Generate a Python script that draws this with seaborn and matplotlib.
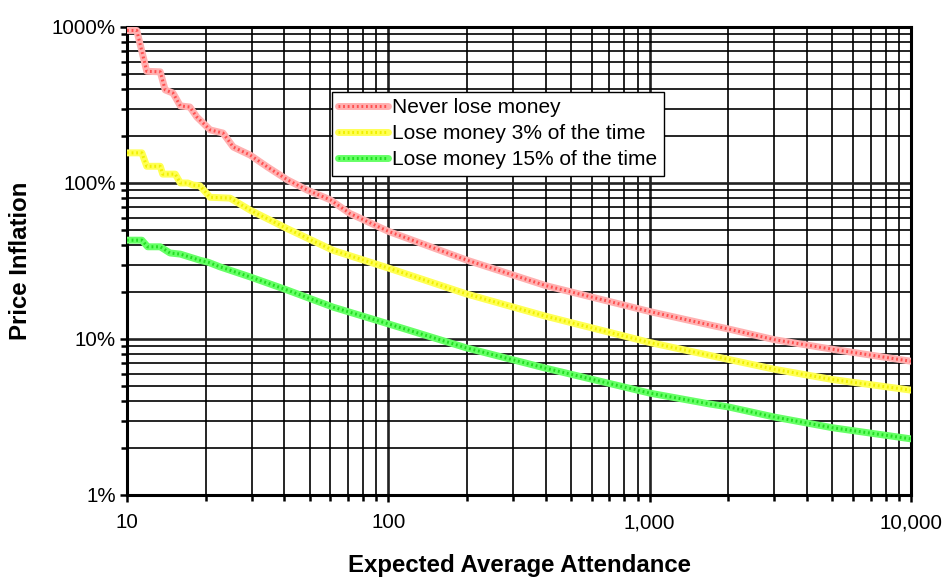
import matplotlib
matplotlib.use("Agg")
import matplotlib.pyplot as plt
import matplotlib.ticker as mticker
from matplotlib.lines import Line2D
import numpy as np
import pandas as pd
import seaborn as sns

# Series labels
series_names = ["Never lose money", "Lose money 3% of the time", "Lose money 15% of the time"]

# Never lose money (attendance, price inflation in %)
never_x = [10, 10.9, 11.9, 13.4, 14, 15, 16, 17.4, 18.5, 20.8, 23.3, 25.5, 29.6, 34.4,
           41, 49, 60, 71, 100, 200, 400, 1000, 1700, 2000, 3000, 5000, 10000]
never_y = [950, 950, 520, 516, 395, 377, 312, 307, 265, 219, 209, 170, 151, 127,
           105, 90, 78, 64, 49, 32, 22, 15, 12.3, 11.6, 9.9, 8.6, 7.2]

# Lose money 3% of the time
lose3_x = [10, 11.4, 11.9, 13.4, 13.7, 15.3, 16, 17.1, 17.9, 19, 20.8, 24.8, 29.6,
           41, 61.5, 100, 200, 400, 1000, 2000, 3000, 5000, 10000]
lose3_y = [156, 156, 128, 128, 114, 114, 100, 100, 97, 96, 81, 80, 67,
           51, 37, 28.5, 19.4, 14, 9.5, 7.4, 6.4, 5.5, 4.7]

# Lose money 15% of the time
lose15_x = [10, 11.4, 12, 13.4, 14.6, 16, 19, 20.5, 22.7, 29.6, 41, 61.5, 100,
            200, 400, 1000, 1700, 2000, 3000, 5000, 10000]
lose15_y = [43, 43, 39, 39, 35.6, 35, 32, 31, 29, 25, 20.6, 16, 12.5,
            8.75, 6.5, 4.5, 3.83, 3.67, 3.16, 2.7, 2.29]

# Tick positions / labels
x_ticks = [10, 100, 1000, 10000]
y_ticks = [1, 10, 100, 1000]

frames = []
for name, xs, ys in zip(series_names, [never_x, lose3_x, lose15_x], [never_y, lose3_y, lose15_y]):
    frames.append(pd.DataFrame({"attendance": xs, "inflation": ys, "series": name}))
df = pd.concat(frames, ignore_index=True)

base_colors = {series_names[0]: "#ffb0b0", series_names[1]: "#ffff55", series_names[2]: "#66ff66"}
dot_colors = {series_names[0]: "#ff5050", series_names[1]: "#f0f000", series_names[2]: "#22dd22"}

sns.set_theme(style="white")
plt.rcParams["font.family"] = ["Liberation Sans", "DejaVu Sans"]
plt.rcParams.update({"text.color": "black", "axes.labelcolor": "black",
                     "xtick.color": "black", "ytick.color": "black"})

fig = plt.figure(figsize=(9.44, 5.77), dpi=100)
ax = fig.add_axes([127 / 944, 1 - 495 / 577, 784 / 944, 468 / 577])

ax.set_xscale("log")
ax.set_yscale("log")

# grid: black major and minor lines
ax.grid(which="major", color="#222222", lw=1.9, zorder=0)
ax.grid(which="minor", color="black", lw=1.2, zorder=0)
ax.set_axisbelow(True)

sns.lineplot(data=df, x="attendance", y="inflation", hue="series", palette=base_colors,
             estimator=None, sort=False, lw=5, legend=False, ax=ax, zorder=3)
sns.lineplot(data=df, x="attendance", y="inflation", hue="series", palette=dot_colors,
             estimator=None, sort=False, lw=2.2, legend=False, ax=ax, zorder=4,
             dashes=False)
for line in ax.lines[3:]:
    line.set_linestyle((0, (0.6, 0.9)))

ax.set_xlim(10, 10000)
ax.set_ylim(1, 1000)

ax.xaxis.set_major_locator(mticker.FixedLocator(x_ticks))
ax.xaxis.set_major_formatter(mticker.FuncFormatter(lambda v, p: f"{v:,.0f}"))
ax.xaxis.set_minor_locator(mticker.LogLocator(base=10, subs=np.arange(2, 10)))
ax.xaxis.set_minor_formatter(mticker.NullFormatter())
ax.yaxis.set_major_locator(mticker.FixedLocator(y_ticks))
ax.yaxis.set_major_formatter(mticker.FuncFormatter(lambda v, p: f"{v:g}%"))
ax.yaxis.set_minor_locator(mticker.LogLocator(base=10, subs=np.arange(2, 10)))
ax.yaxis.set_minor_formatter(mticker.NullFormatter())

ax.tick_params(which="both", direction="out", color="black", width=1.8,
               bottom=True, left=True, top=False, right=False)
ax.tick_params(which="major", length=5)
ax.tick_params(which="minor", length=4)
ax.tick_params(axis="x", which="major", labelsize=14.8, pad=8, labelcolor="black")
ax.tick_params(axis="y", which="major", labelsize=14.8, pad=3, labelcolor="black")

for s in ax.spines.values():
    s.set_color("black")
    s.set_linewidth(2.2)
    s.set_visible(True)

ax.set_xlabel("Expected Average Attendance", fontsize=17.3, fontweight="bold",
              labelpad=16, color="black")
ax.set_ylabel("Price Inflation", fontsize=17.3, fontweight="bold", labelpad=14,
              color="black")

handles = []
for name in series_names:
    h1 = Line2D([], [], color=base_colors[name], lw=5)
    h2 = Line2D([], [], color=dot_colors[name], lw=2.2, linestyle=(0, (0.6, 0.9)))
    handles.append((h1, h2))
leg = ax.legend(handles, series_names, loc="upper left", bbox_to_anchor=(0.2615, 0.862),
                fontsize=15, frameon=True, fancybox=False, framealpha=1,
                edgecolor="black", handlelength=2.4, handletextpad=0.2,
                labelspacing=0.35, borderpad=0.3, borderaxespad=0)
leg.get_frame().set_linewidth(1.0)
leg.set_zorder(5)
for t in leg.get_texts():
    t.set_color("black")

fig.savefig("out.png", dpi=100)
